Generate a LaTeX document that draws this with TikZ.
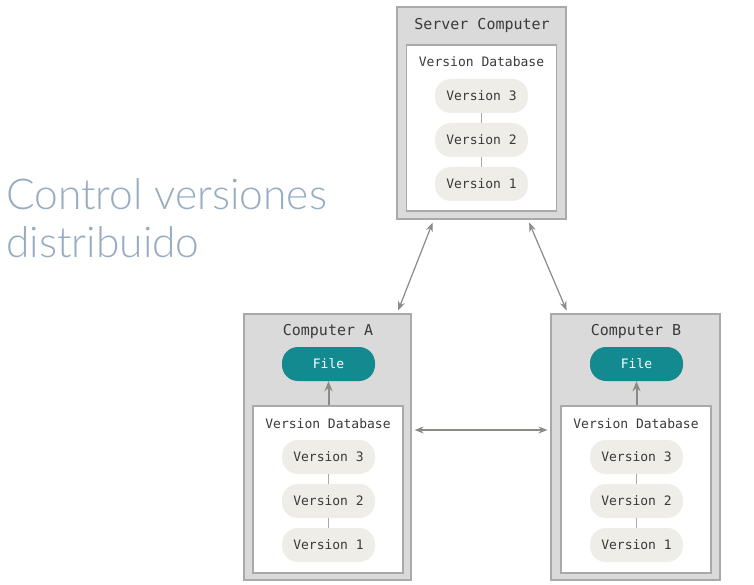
\documentclass[tikz,border=0pt]{standalone}
\usepackage{fontspec}
\setmonofont{DejaVu Sans Mono}
\newfontfamily\titlefont{Lato Light}
\usetikzlibrary{arrows.meta,calc}
\definecolor{outerfill}{HTML}{DADADA}
\definecolor{outerdraw}{HTML}{A9A9A9}
\definecolor{pillfill}{HTML}{EEEDE7}
\definecolor{teal}{HTML}{128A90}
\definecolor{txt}{HTML}{3A3A3A}
\definecolor{arrowgray}{HTML}{8A8A86}
\definecolor{titlecol}{HTML}{98ACC1}
\tikzset{
  outerbox/.style={draw=outerdraw, line width=1.2pt, fill=outerfill, inner sep=0pt},
  innerbox/.style={draw=outerdraw, line width=1.2pt, fill=white, inner sep=0pt},
  pill/.style={rounded corners=16pt, fill=pillfill, minimum width=93pt, minimum height=34pt, inner sep=0pt, font=\ttfamily\fontsize{13}{15}\selectfont, text=txt},
  filepill/.style={rounded corners=16pt, fill=teal, minimum width=93pt, minimum height=34pt, inner sep=0pt, font=\ttfamily\fontsize{13}{15}\selectfont, text=white},
  boxtitle/.style={font=\ttfamily\fontsize{15}{17}\selectfont, text=txt, inner sep=0pt},
  dbtitle/.style={font=\ttfamily\fontsize{13}{15}\selectfont, text=txt, inner sep=0pt},
  link/.style={draw=outerdraw, line width=1pt},
  sync/.style={draw=arrowgray, line width=1.2pt, {Stealth[length=9pt,width=7pt]}-{Stealth[length=9pt,width=7pt]}},
  fetch/.style={draw=arrowgray, line width=2pt, -{Stealth[length=10pt,width=8pt]}}
}
\begin{document}
\begin{tikzpicture}[x=1pt,y=-1pt]
\useasboundingbox (0,0) rectangle (754,585);
% title
\node[anchor=base west, inner sep=0pt, text=titlecol, font=\titlefont\fontsize{42.5}{48}\selectfont] (t1) at (6,210) {Control versiones};
\node[anchor=base west, inner sep=0pt, text=titlecol, font=\titlefont\fontsize{42.5}{48}\selectfont] (t2) at (6,258) {distribuido};

% server
\node[outerbox, minimum width=169pt, minimum height=212pt] (srv) at (481.5,113) {};
\node[boxtitle] (srvt) at (482,25) {Server Computer};
\node[innerbox, minimum width=150pt, minimum height=166pt] (srvdb) at (481.5,128) {};
\node[dbtitle] (srvdbt) at (481.5,62) {Version Database};
\node[pill] (s3) at (481.5,96) {Version 3};
\node[pill] (s2) at (481.5,140) {Version 2};
\node[pill] (s1) at (481.5,184) {Version 1};
\draw[link] (s3) -- (s2);
\draw[link] (s2) -- (s1);

% computer A
\node[outerbox, minimum width=167pt, minimum height=266pt] (ca) at (327.5,447) {};
\node[boxtitle] (cat) at (328,331) {Computer A};
\node[filepill] (fa) at (328.5,364) {File};
\node[innerbox, minimum width=150pt, minimum height=167pt] (cadb) at (328,489.5) {};
\node[dbtitle] (cadbt) at (328,424) {Version Database};
\node[pill] (a3) at (328.5,457) {Version 3};
\node[pill] (a2) at (328.5,501) {Version 2};
\node[pill] (a1) at (328.5,545) {Version 1};
\draw[link] (a3) -- (a2);
\draw[link] (a2) -- (a1);
\draw[fetch] (cadb.north -| fa.south) -- (fa.south);

% computer B
\node[outerbox, minimum width=169pt, minimum height=266pt] (cb) at (635.5,447) {};
\node[boxtitle] (cbt) at (636,331) {Computer B};
\node[filepill] (fb) at (636.5,364) {File};
\node[innerbox, minimum width=150pt, minimum height=167pt] (cbdb) at (636,489.5) {};
\node[dbtitle] (cbdbt) at (636,424) {Version Database};
\node[pill] (b3) at (636.5,457) {Version 3};
\node[pill] (b2) at (636.5,501) {Version 2};
\node[pill] (b1) at (636.5,545) {Version 1};
\draw[link] (b3) -- (b2);
\draw[link] (b2) -- (b1);
\draw[fetch] (cbdb.north -| fb.south) -- (fb.south);

% sync arrows
\draw[sync] ($(srv.south west)!0.213!(srv.south east)+(0,3)$) -- ($(ca.north west)!0.92!(ca.north east)+(0,-3)$);
\draw[sync] ($(srv.south west)!0.78!(srv.south east)+(0,3)$) -- ($(cb.north west)!0.095!(cb.north east)+(0,-3)$);
\draw[sync] ($(ca.east)+(3,-17)$) -- ($(cb.west)+(-3,-17)$);
\end{tikzpicture}
\end{document}
